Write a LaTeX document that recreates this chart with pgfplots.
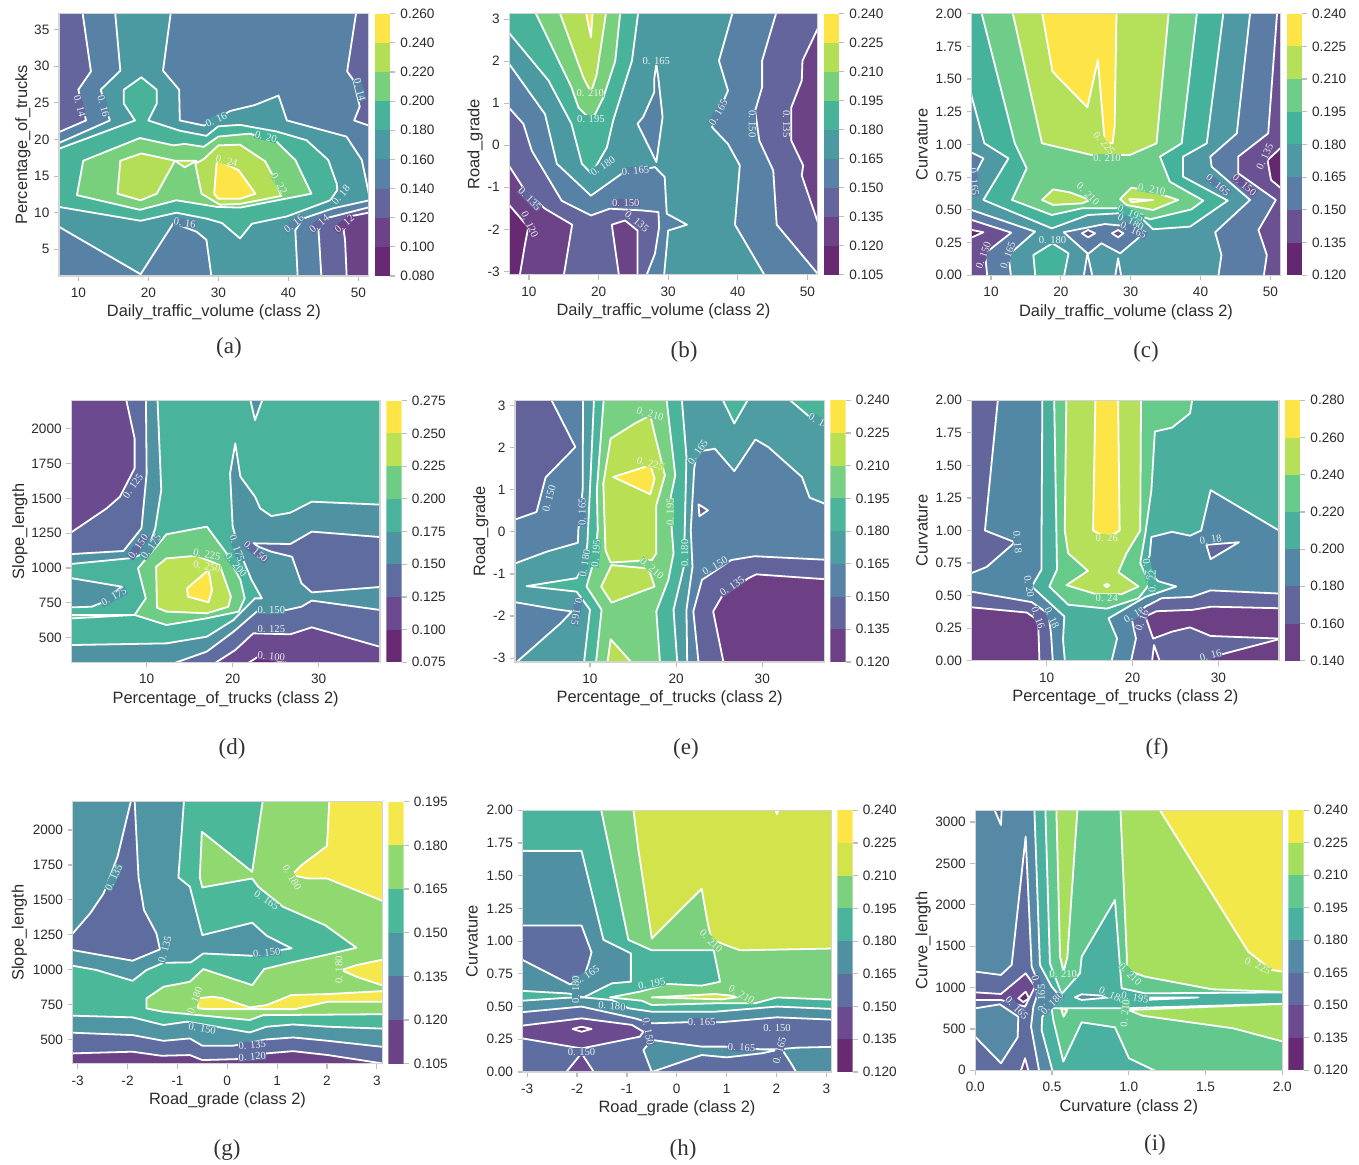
\documentclass[border=0pt]{standalone}
\usepackage{fontspec}
\setmainfont{Liberation Sans}
\newfontfamily\capfont{Liberation Serif}
\usepackage{pgfplots}
\pgfplotsset{compat=1.18}
\definecolor{spine}{HTML}{D4D4D4}
\definecolor{tickc}{HTML}{BDBDBD}
\definecolor{txt}{HTML}{2B2B2B}
\definecolor{clc}{HTML}{E9F2F0}
\definecolor{a0}{HTML}{672A72}\definecolor{a1}{HTML}{6D4388}\definecolor{a2}{HTML}{64659C}\definecolor{a3}{HTML}{5882A5}\definecolor{a4}{HTML}{4C9AA1}\definecolor{a5}{HTML}{49B39A}\definecolor{a6}{HTML}{78D07D}\definecolor{a7}{HTML}{B3DE55}\definecolor{a8}{HTML}{FDE548}
\definecolor{c0}{HTML}{642870}\definecolor{c1}{HTML}{6B5092}\definecolor{c2}{HTML}{5A7CA5}\definecolor{c3}{HTML}{4E99A4}\definecolor{c4}{HTML}{45B29C}\definecolor{c5}{HTML}{6FCD8A}\definecolor{c6}{HTML}{B5E05A}\definecolor{c7}{HTML}{FDE548}
\definecolor{d0}{HTML}{682A73}\definecolor{d1}{HTML}{6C4A8F}\definecolor{d2}{HTML}{5E6CA0}\definecolor{d3}{HTML}{4F93A3}\definecolor{d4}{HTML}{4AB39B}\definecolor{d5}{HTML}{6FCC85}\definecolor{d6}{HTML}{BDE154}\definecolor{d7}{HTML}{FDE548}
\definecolor{e0}{HTML}{6D3F84}\definecolor{e1}{HTML}{63639C}\definecolor{e2}{HTML}{5882A6}\definecolor{e3}{HTML}{4E9DA3}\definecolor{e4}{HTML}{4AB59B}\definecolor{e5}{HTML}{78D082}\definecolor{e6}{HTML}{B9E055}\definecolor{e7}{HTML}{FDE548}
\definecolor{f0}{HTML}{6D3F84}\definecolor{f1}{HTML}{62669D}\definecolor{f2}{HTML}{5288A5}\definecolor{f3}{HTML}{4BAF9E}\definecolor{f4}{HTML}{66CA8B}\definecolor{f5}{HTML}{B6E05A}\definecolor{f6}{HTML}{FDE548}
\definecolor{g0}{HTML}{6C4287}\definecolor{g1}{HTML}{5E6CA0}\definecolor{g2}{HTML}{4F95A3}\definecolor{g3}{HTML}{4CB89A}\definecolor{g4}{HTML}{90D870}\definecolor{g5}{HTML}{F5E84C}
\definecolor{h0}{HTML}{682A73}\definecolor{h1}{HTML}{6C4A8F}\definecolor{h2}{HTML}{5E6EA0}\definecolor{h3}{HTML}{4F90A3}\definecolor{h4}{HTML}{4AB39B}\definecolor{h5}{HTML}{7BD17E}\definecolor{h6}{HTML}{D2E34B}\definecolor{h7}{HTML}{FDE548}
\definecolor{i0}{HTML}{682A73}\definecolor{i1}{HTML}{6C4A8F}\definecolor{i2}{HTML}{5E6CA0}\definecolor{i3}{HTML}{5689A5}\definecolor{i4}{HTML}{4AB09F}\definecolor{i5}{HTML}{62C88E}\definecolor{i6}{HTML}{A6DE5E}\definecolor{i7}{HTML}{F3E84A}
\newcommand\clf{\capfont\fontsize{5.3}{5.5}\selectfont}
\newcommand\reg[2]{\addplot[fill=#1,draw=white,line width=.9pt,line join=round] coordinates {#2} --cycle;}
\newcommand\cl[5]{\node[rotate=#3,fill=#5,font=\clf,text=clc,inner sep=.2pt] at (axis cs:#1,#2) {#4};}
\newcommand\band[3]{\addplot[draw=none,fill=#3] coordinates {(0,#1)(1,#1)(1,#2)(0,#2)} --cycle;}
\newcommand\pcap[3]{\node[font=\capfont\fontsize{11.5}{12}\selectfont,text=black!80] at (#1*0.5pt,{(1162.5-#2)*0.5pt}) {(#3)};}
\pgfplotsset{
 base/.style={scale only axis,anchor=south west,tick align=outside,major tick length=2.5pt,
  tick style={draw=tickc,line width=.6pt},
  ticklabel style={font=\fontsize{6.8}{8}\selectfont,text=txt},
  /pgf/number format/assume math mode=true,/pgf/number format/1000 sep={}},
 panel/.style={base,axis on top,xtick pos=bottom,ytick pos=left,axis line style={draw=spine,line width=.6pt},
  label style={font=\fontsize{8.2}{10}\selectfont,text=txt},yticklabel style={xshift=1.2pt},
  xlabel style={yshift=3.3pt},ylabel style={yshift=-1pt}},
 cbar/.style={base,width=7.7pt,xmin=0,xmax=1,xtick=\empty,ytick pos=right,yticklabel pos=right,
  axis line style={draw=none},
  yticklabel style={/pgf/number format/fixed,/pgf/number format/fixed zerofill,/pgf/number format/precision=3,xshift=-1pt}},
 ztwo/.style={yticklabel style={/pgf/number format/fixed,/pgf/number format/fixed zerofill,/pgf/number format/precision=2}},
}
\begin{document}
\begin{tikzpicture}
\path[use as bounding box] (0,0) rectangle (679.5pt,582pt);
% ---------- (a)
\begin{axis}[panel,ylabel shift=-4pt,at={(29.5pt,444pt)},width=154.85pt,height=131.15pt,xmin=7.24,xmax=51.48,ymin=1.36,ymax=37.18,xtick={10,20,30,40,50},ytick={5,10,15,20,25,30,35},xlabel={Daily\_traffic\_volume (class 2)},ylabel={Percentage\_of\_trucks}]
\addplot[fill=a3,draw=none] coordinates {(5,0)(54,0)(54,39)(5,39)} --cycle;
\reg{a4}{(15.2,38)(23.3,38)(22.1,29.4)(24.4,26.8)(24.5,22.6)(28,21.9)(31.7,23.9)(35.2,24.7)(38.6,26)(39.8,22.6)(48.3,20.4)(50.5,17.2)(51.5,12.6)(53,12)(46.4,10.6)(42.1,9.2)(41,7.6)(41.4,0)(29.2,0)(28.3,6.3)(26.9,7.4)(23.6,8.6)(18.9,1.6)(7.2,8.1)(6,8.7)(6,19)(14.5,22.6)(13.2,26.8)(16,29.4)}
\reg{a2}{(10.5,38)(11.8,29.3)(10,26.8)(11.1,22.6)(7.2,21)(6,20.5)(6,38)}
\reg{a2}{(49.8,38)(48.4,29.3)(49.3,28.1)(50.2,24.5)(49.4,22.6)(51.5,21.9)(53,21.5)(53,38)}
\reg{a2}{(53,11.1)(45.2,9.2)(44.3,7.6)(44.4,6.3)(44.8,0)(53,0)}
\reg{a1}{(53,10.3)(48.8,9.5)(47.9,7.6)(48.1,6.3)(48.4,0)(53,0)}
\reg{a5}{(6,18.3)(18.1,22.6)(16.5,24.9)(16.5,26.8)(19,28.5)(21.2,26.8)(21.2,24.9)(20,22.6)(24.5,21.2)(28.3,20.5)(30,21.8)(33.1,22)(38.3,21.1)(42.6,19.9)(45.7,17.2)(46.9,14)(47,13.1)(46,11.7)(39.8,9.5)(34.8,8.5)(33.1,6.5)(30.5,8.6)(28.3,9.2)(24,10)(18.9,8.9)(7.2,10.8)(6,11)}
\reg{a6}{(10.7,17.1)(18.8,20.2)(23.6,19.2)(25.2,19.4)(27.9,19)(30,20.4)(34.5,20.8)(38.3,19.7)(41,17.2)(43.3,12.6)(33.1,10.7)(29.8,10.8)(24,11.7)(18.8,10.4)(9.8,12.4)}
\reg{a7}{(16,17.1)(19,18.1)(23.8,17.1)(21.2,12.6)(18.9,11.7)(15.6,12.6)}
\reg{a7}{(23.8,17.1)(26.9,17.1)(25.2,16.2)}
\reg{a7}{(26.7,16.7)(27.9,17.3)(30,19.2)(33.1,19.3)(36.7,17)(37.6,15.4)(39,12.3)(33.1,11.2)(30.2,11.1)(27.6,12.6)}
\reg{a8}{(29.8,17.2)(32.9,15.8)(35.3,12.6)(33.1,11.9)(30,11.9)(29.4,12.6)}
\cl{10.2}{24.6}{-75}{0. 14}{a2}
\cl{13.6}{24.6}{-75}{0. 16}{a3}
\cl{29.7}{22.7}{25}{0. 16}{a4}
\cl{36.8}{20.4}{-15}{0. 20}{a5}
\cl{31.2}{17.1}{-15}{0. 24}{a7}
\cl{38.7}{14}{-60}{0. 22}{a6}
\cl{47.5}{12.4}{50}{0. 18}{a4}
\cl{40.8}{8.5}{40}{0. 16}{a3}
\cl{44.4}{8.5}{40}{0. 14}{a2}
\cl{48}{8.5}{40}{0. 12}{a1}
\cl{25.2}{8.6}{-8}{0. 16}{a3}
\cl{50.2}{26.8}{-75}{0. 14}{a3}
\end{axis}
\begin{axis}[cbar,at={(187.5pt,444pt)},height=131.15pt,ymin=0.08,ymax=0.26,ytick={0.08,0.1,0.12,0.14,0.16,0.18,0.2,0.22,0.24,0.26}]
\band{0.08}{0.1}{a0}\band{0.1}{0.12}{a1}\band{0.12}{0.14}{a2}\band{0.14}{0.16}{a3}\band{0.16}{0.18}{a4}\band{0.18}{0.2}{a5}\band{0.2}{0.22}{a6}\band{0.22}{0.24}{a7}\band{0.24}{0.26}{a8}
\end{axis}
% ---------- (b)
\begin{axis}[panel,ylabel shift=-3.5pt,at={(254.65pt,444.65pt)},width=154.2pt,height=130.5pt,xmin=7.17,xmax=51.49,ymin=-3.08,ymax=3.13,xtick={10,20,30,40,50},ytick={-3,-2,-1,0,1,2,3},xlabel={Daily\_traffic\_volume (class 2)},ylabel={Road\_grade}]
\addplot[fill=a4,draw=none] coordinates {(5,-4)(54,-4)(54,4)(5,4)} --cycle;
\reg{a5}{(25.8,3.3)(24.8,2.01)(22.1,.59)(21.2,-.05)(19,-.68)(17.6,-.44)(16.1,.51)(12.8,1.54)(6,2.9)(6,3.3)}
\reg{a6}{(23.2,3.3)(22.4,2.01)(20.7,1.14)(19.5,.74)(18.9,.6)(17.1,.9)(16.1,1.38)(10.5,3.3)}
\reg{a7}{(21.2,3.3)(20.4,2.41)(19.7,1.66)(18.9,1.26)(17.8,1.62)(14.1,3.3)}
\reg{a8}{(18,3.3)(18.9,2.57)(19.2,3.3)}
\reg{a3}{(39.5,3.3)(37.3,2.01)(38.6,1.3)(36.3,.43)(38.6,.03)(40.3,-.48)(39.6,-1.89)(44.6,-3.3)(53,-3.3)(53,3.3)}
\reg{a2}{(45.8,3.3)(43.5,2.01)(43.5,1.38)(42.5,.82)(43.1,.11)(45.1,-.6)(45.6,-1.89)(51.5,-3.06)(53,-3.3)(53,3.3)}
\reg{a1}{(53,3.3)(49.3,2.01)(49.2,1.54)(47.7,.9)(47.7,.11)(49.4,-.48)(49.2,-.72)(51.5,-1.83)(53,-2.55)}
\reg{a3}{(6,2.2)(7.17,1.93)(12.3,.74)(14,-.44)(18.9,-1.2)(23.3,-.68)(28.1,-.52)(29.5,-.76)(29.8,-1.63)(32.7,-1.89)(30,-2.03)(29.3,-3.3)(6,-3.3)}
\reg{a2}{(6,1.1)(9.19,.51)(10.4,-.13)(14.7,-1.32)(18.9,-1.67)(21.6,-1.51)(26.2,-1.55)(28.6,-1.59)(28.7,-1.95)(28.1,-2.58)(26.4,-3.3)(6,-3.3)}
\reg{a1}{(6,-.2)(9.43,-1.08)(12.3,-1.51)(16.2,-1.89)(14.8,-3.3)(6,-3.3)}
\reg{a0}{(6,-1.2)(9.9,-1.95)(9.43,-2.35)(8.47,-3.3)(6,-3.3)}
\reg{a1}{(21.9,-1.89)(23.8,-1.79)(25.6,-2.03)(25.6,-3.3)(23.1,-3.3)}
\reg{a3}{(28.3,1.93)(28,1.58)(28,1.26)(26.4,.67)(25.6,.51)(28.3,-.4)(29.2,.67)(28.6,1.58)}
\cl{28.3}{2.01}{0}{0. 165}{a4}
\cl{18.8}{1.24}{0}{0. 210}{a6}
\cl{18.9}{.63}{0}{0. 195}{a5}
\cl{20.6}{-.5}{35}{0. 180}{a4}
\cl{25.3}{-.6}{5}{0. 165}{a3}
\cl{23.9}{-1.37}{0}{0. 150}{a2}
\cl{25.5}{-1.81}{-40}{0. 135}{a2}
\cl{10.1}{-1.28}{-45}{0. 135}{a2}
\cl{10.1}{-1.89}{-65}{0. 120}{a1}
\cl{37.2}{.78}{60}{0. 165}{a3}
\cl{42.1}{.51}{-90}{0. 150}{a3}
\cl{47}{.51}{-90}{0. 135}{a2}
\end{axis}
\begin{axis}[cbar,at={(412pt,444.65pt)},height=130.5pt,ymin=0.105,ymax=0.24,ytick={0.105,0.12,0.135,0.15,0.165,0.18,0.195,0.21,0.225,0.24}]
\band{0.105}{0.12}{a0}\band{0.12}{0.135}{a1}\band{0.135}{0.15}{a2}\band{0.15}{0.165}{a3}\band{0.165}{0.18}{a4}\band{0.18}{0.195}{a5}\band{0.195}{0.21}{a6}\band{0.21}{0.225}{a7}\band{0.225}{0.24}{a8}
\end{axis}
% ---------- (c)
\begin{axis}[panel,ztwo,ylabel shift=-2pt,at={(485.85pt,444.35pt)},width=154.3pt,height=130.8pt,xmin=7.23,xmax=51.43,ymin=0,ymax=2,xtick={10,20,30,40,50},ytick={0,.25,.5,.75,1,1.25,1.5,1.75,2},xlabel={Daily\_traffic\_volume (class 2)},ylabel={Curvature}]
\addplot[fill=c3,draw=none] coordinates {(5,-1)(54,-1)(54,3)(5,3)} --cycle;
\reg{c4}{(43.5,2.1)(40.9,1.009)(37.5,.907)(37.5,.754)(43.9,.571)(38.5,.372)(33.2,.352)(31.8,.423)(28.2,.474)(23.9,.461)(18.7,.359)(8.9,.576)(12.5,.894)(9.05,1.009)(7.23,1.366)(6,1.7)(6,2.1)}
\reg{c5}{(39.7,2.1)(37.3,1.009)(34.2,.907)(35.6,.716)(40.4,.571)(38.7,.504)(32.8,.428)(28.2,.512)(23,.512)(18.7,.461)(13,.576)(15.1,.818)(13.4,1.009)(8.19,2.1)}
\reg{c6}{(12.7,2.1)(17.3,1.009)(24.4,.92)(29.9,.92)(33.7,1.009)(35.6,2.1)}
\reg{c7}{(17,2.1)(18.8,1.557)(23.8,1.284)(25.3,1.646)(26.1,1.136)(26.3,1.009)(27.4,1.009)(27.7,1.136)(28,2.1)}
\reg{c6}{(17.3,.576)(18.9,.657)(21.3,.634)(24.2,.576)(23,.55)(18.9,.538)}
\reg{c6}{(28.5,.583)(30.1,.67)(33.2,.639)(36.8,.576)(33.2,.499)(29.4,.538)}
\reg{c7}{(29.8,.583)(33.2,.576)(30.1,.558)}
\reg{c2}{(47.3,2.1)(45.2,1.085)(41.4,.907)(41.6,.83)(47.1,.576)(42.1,.329)(43,.155)(42.3,-.1)(53,-.1)(53,2.1)}
\reg{c1}{(51.1,2.1)(49.7,1.085)(45.4,.907)(45.4,.78)(50.8,.576)(48.3,.346)(49.5,.155)(48.8,-.1)(53,-.1)(53,2.1)}
\reg{c0}{(53,1.05)(49.6,.88)(50.1,.729)(53,.6)}
\reg{c2}{(6,.97)(8.9,.894)(7.3,.73)(6,.65)}
\reg{c2}{(6,.5)(7.23,.499)(16.3,.334)(12.5,.155)(13.05,-.1)(6,-.1)}
\reg{c1}{(6,.45)(7.23,.423)(12.9,.326)(9.14,.168)(9.62,-.1)(6,-.1)}
\reg{c0}{(6,.36)(8.9,.329)(6,.26)}
\reg{c4}{(16.5,-.1)(16.06,.155)(18.8,.245)(21.1,.168)(20.1,-.1)}
\reg{c2}{(20.4,.329)(26.3,.392)(30.1,.372)(31.6,.308)(28.5,.168)(25.8,.245)(23.9,.163)}
\reg{c1}{(23,.321)(23.9,.346)(24.9,.321)(23.9,.29)}
\reg{c1}{(27.3,.321)(28.2,.346)(28.95,.321)(28.2,.29)}
\reg{c2}{(23,-.1)(23.8,.168)(24.9,-.1)}
\reg{c2}{(27.5,-.1)(28.2,.13)(28.95,-.1)}
\cl{26.2}{1.009}{-50}{0. 225}{c6}
\cl{26.6}{.9}{0}{0. 210}{c5}
\cl{23.9}{.62}{-45}{0. 210}{c5}
\cl{33}{.657}{-10}{0. 210}{c5}
\cl{30}{.474}{-25}{0. 195}{c4}
\cl{30}{.41}{-25}{0. 180}{c3}
\cl{30.4}{.346}{-25}{0. 165}{c2}
\cl{18.8}{.27}{0}{0. 180}{c3}
\cl{42.5}{.69}{-40}{0. 165}{c2}
\cl{46.3}{.69}{-40}{0. 150}{c1}
\cl{49.2}{.907}{65}{0. 135}{c1}
\cl{8.9}{.155}{70}{0. 150}{c1}
\cl{12.4}{.155}{70}{0. 165}{c2}
\cl{7.6}{.716}{-85}{0. 165}{c2}
\end{axis}
\begin{axis}[cbar,at={(643.35pt,444.35pt)},height=130.8pt,ymin=0.12,ymax=0.24,ytick={0.12,0.135,0.15,0.165,0.18,0.195,0.21,0.225,0.24}]
\band{0.12}{0.135}{c0}\band{0.135}{0.15}{c1}\band{0.15}{0.165}{c2}\band{0.165}{0.18}{c3}\band{0.18}{0.195}{c4}\band{0.195}{0.21}{c5}\band{0.21}{0.225}{c6}\band{0.225}{0.24}{c7}
\end{axis}
% ---------- (d)
\begin{axis}[panel,ylabel shift=-4pt,at={(35.65pt,250.85pt)},width=154.35pt,height=130.8pt,xmin=1.24,xmax=37.13,ymin=323,ymax=2201,xtick={10,20,30},ytick={500,750,1000,1250,1500,1750,2000},xlabel={Percentage\_of\_trucks (class 2)},ylabel={Slope\_length}]
\addplot[fill=d4,draw=none] coordinates {(0,200)(40,200)(40,2400)(0,2400)} --cycle;
\reg{d3}{(11.2,2300)(11.7,1560)(11,1285)(10,1105)(7.9,1069)(1.24,1029)(0,1025)(0,2300)}
\reg{d2}{(9.9,2300)(10,1679)(9.4,1285)(7.3,1122)(1.24,1100)(0,1099)(0,2300)}
\reg{d1}{(7.3,2300)(8.6,1930)(8.6,1715)(6.9,1512)(5.35,1428)(1.24,1256)(0,1200)(0,2300)}
\reg{d3}{(0,940)(7.1,866)(6.1,818)(4.6,746)(3.6,722)(0,715)}
\reg{d3}{(21.7,2300)(22.6,2062)(24,2300)}
\reg{d3}{(39,1450)(29.2,1476)(26.7,1397)(24.5,1373)(23.2,1428)(22.6,1512)(20.9,1655)(20.3,1895)(19.7,1679)(20,1297)(20.9,1105)(22.2,914)(23.4,782)(22.6,782)(20.1,627)(17,507)(12.3,459)(1.24,447)(0,445)(0,280)(39,280)}
\reg{d2}{(22.4,1177)(26.7,1172)(29.2,1261)(39,1213)(39,873)(29.2,825)(28,890)(26.9,1081)(24.5,1117)(23,1153)}
\reg{d2}{(11.5,280)(17,400)(20.1,543)(22.8,687)(26.3,699)(28,722)(29.2,766)(37.1,699)(39,684)(39,280)}
\reg{d1}{(17,280)(20.3,411)(22.4,531)(26.7,524)(29.2,574)(37.1,435)(39,400)(39,280)}
\reg{d0}{(20.8,280)(23,364)(26.1,323)(27.5,280)}
\reg{d5}{(9,998)(12.3,1242)(17,1297)(19.3,1105)(20.9,914)(21.4,782)(20.7,687)(17,639)(12.3,591)(8.6,663)(9.9,782)}
\reg{d5}{(0,663)(8.6,663)(0,634)}
\reg{d6}{(11.1,1009)(12.3,1069)(15.8,1088)(18.5,1021)(19.8,794)(19.5,722)(17,675)(12.3,687)(11.2,715)}
\reg{d7}{(14.7,854)(17.2,986)(17.6,842)(17.2,754)(14.8,794)}
\cl{8.4}{1588}{55}{0. 125}{d2}
\cl{9}{1153}{55}{0. 150}{d2}
\cl{10.5}{1153}{55}{0. 175}{d3}
\cl{17}{1098}{-10}{0. 225}{d5}
\cl{17}{1009}{-10}{0. 250}{d6}
\cl{6.2}{794}{30}{0. 175}{d3}
\cl{20.5}{1141}{-70}{0. 175}{d3}
\cl{20.4}{1021}{-50}{0. 200}{d4}
\cl{22.7}{1117}{-40}{0. 150}{d2}
\cl{24.5}{699}{0}{0. 150}{d3}
\cl{24.5}{562}{0}{0. 125}{d2}
\cl{24.5}{364}{-5}{0. 100}{d1}
\end{axis}
\begin{axis}[cbar,at={(193.15pt,250.85pt)},height=130.8pt,ymin=0.075,ymax=0.275,ytick={0.075,0.1,0.125,0.15,0.175,0.2,0.225,0.25,0.275}]
\band{0.075}{0.1}{d0}\band{0.1}{0.125}{d1}\band{0.125}{0.15}{d2}\band{0.15}{0.175}{d3}\band{0.175}{0.2}{d4}\band{0.2}{0.225}{d5}\band{0.225}{0.25}{d6}\band{0.25}{0.275}{d7}
\end{axis}
% ---------- (e)
\begin{axis}[panel,ylabel shift=-3.5pt,at={(257.5pt,251pt)},width=154.65pt,height=130.85pt,xmin=1.3,xmax=37.2,ymin=-3.09,ymax=3.12,xtick={10,20,30},ytick={-3,-2,-1,0,1,2,3},xlabel={Percentage\_of\_trucks (class 2)},ylabel={Road\_grade}]
\addplot[fill=e3,draw=none] coordinates {(0,-4)(40,-4)(40,4)(0,4)} --cycle;
\reg{e2}{(9.2,3.3)(9.15,.99)(8.65,.04)(8.6,-.26)(5,-.47)(0,-.85)(0,3.3)}
\reg{e1}{(5.1,3.3)(8.3,2.01)(4.85,1.29)(3.8,.47)(1.3,.29)(0,.2)(0,3.3)}
\reg{e2}{(0,-1.6)(1.3,-1.67)(6.1,-1.84)(7.9,-1.89)(6.6,-2.17)(1.5,-3.09)(.5,-3.3)(0,-3.3)}
\reg{e4}{(10.5,3.3)(10,.99)(9.7,-.28)(9.4,-.75)(8.45,-1.1)(2.65,-1.29)(8.45,-1.42)(10,-1.85)(9.2,-3.3)(20.2,-3.3)(19.7,-1.85)(20.9,-.83)(21,.04)(21.2,1.78)(20.6,3.3)}
\reg{e5}{(11.65,3.3)(10.8,.99)(10.9,.04)(10.6,-.59)(9.6,-1.3)(11.35,-1.85)(10.6,-3.3)(18.2,-3.3)(17.7,-1.89)(19.1,-1.14)(19.7,-.51)(19.5,.04)(19.3,.75)(19.9,1.34)(18.8,3.3)}
\reg{e6}{(12.4,2.21)(15.2,2.57)(17,2.76)(17.5,2.33)(18.7,1.34)(17.7,.63)(17.7,-.51)(17.2,-.67)(12.4,-.73)(11.8,-.44)(11.55,1.14)}
\reg{e7}{(12.7,1.3)(17,1.58)(17.5,1.26)(17,.89)}
\reg{e6}{(12.5,-.79)(16.8,-.87)(17.5,-1.3)(12.5,-1.68)(11.3,-1.3)}
\reg{e6}{(11.9,-3.3)(12.4,-2.55)(15.7,-3.3)}
\reg{e4}{(25,3.3)(26.75,2.57)(28.8,3.3)}
\reg{e4}{(32.2,3.3)(35.3,2.76)(39,2.3)(39,3.3)}
\reg{e2}{(22.1,1.5)(22.4,1.9)(24.5,1.97)(26.75,1.44)(29.2,2.19)(30.7,2.01)(34.6,1.3)(35.5,.81)(37.2,.67)(39,.55)(39,-3.3)(21.3,-3.3)(21.2,-1.85)(21.9,-.83)(21.7,.04)}
\reg{e1}{(22.7,-3.3)(22,-1.89)(23,-1.14)(26.4,-.67)(29.1,-.58)(39,-.68)(39,-3.3)}
\reg{e0}{(25.7,-3.3)(24.3,-1.89)(25.3,-1.54)(28.4,-1.1)(29.3,-1.01)(39,-1.15)(39,-3.3)}
\reg{e1}{(22.6,.65)(23.7,.51)(22.7,.37)}
\cl{17}{2.79}{-15}{0. 210}{e5}
\cl{17}{1.62}{-15}{0. 225}{e6}
\cl{5.25}{.79}{75}{0. 150}{e2}
\cl{9.1}{.47}{90}{0. 165}{e2}
\cl{19.3}{.47}{90}{0. 195}{e5}
\cl{22.5}{1.89}{55}{0. 165}{e3}
\cl{21}{-.51}{90}{0. 180}{e4}
\cl{9.4}{-.75}{80}{0. 180}{e3}
\cl{10.7}{-.51}{85}{0. 195}{e4}
\cl{17.2}{-.87}{-40}{0. 210}{e5}
\cl{24.5}{-.81}{30}{0. 150}{e2}
\cl{26.5}{-1.29}{35}{0. 135}{e1}
\cl{8.45}{-1.89}{-100}{0. 165}{e2}
\cl{36.3}{2.66}{-30}{0. 1}{e3}
\end{axis}
\begin{axis}[cbar,at={(415.15pt,251pt)},height=130.85pt,ymin=0.12,ymax=0.24,ytick={0.12,0.135,0.15,0.165,0.18,0.195,0.21,0.225,0.24}]
\band{0.12}{0.135}{e0}\band{0.135}{0.15}{e1}\band{0.15}{0.165}{e2}\band{0.165}{0.18}{e3}\band{0.18}{0.195}{e4}\band{0.195}{0.21}{e5}\band{0.21}{0.225}{e6}\band{0.225}{0.24}{e7}
\end{axis}
% ---------- (f)
\begin{axis}[panel,ztwo,ylabel shift=-2pt,at={(485.85pt,251.65pt)},width=153.65pt,height=130.2pt,xmin=1.26,xmax=37.07,ymin=0,ymax=2,xtick={10,20,30},ytick={0,.25,.5,.75,1,1.25,1.5,1.75,2},xlabel={Percentage\_of\_trucks (class 2)},ylabel={Curvature}]
\addplot[fill=f2,draw=none] coordinates {(0,-1)(40,-1)(40,3)(0,3)} --cycle;
\reg{f1}{(4.45,2.1)(2.8,1)(6.3,.91)(3,.72)(0,.64)(0,2.1)}
\reg{f1}{(28.6,.89)(32.4,.91)(29.1,.78)}
\reg{f1}{(0,.55)(1.26,.53)(8.25,.45)(10.2,.36)(10.5,.21)(10.8,-.1)(0,-.1)}
\reg{f0}{(0,.42)(1.26,.41)(7.67,.37)(9,.31)(9.2,-.1)(0,-.1)}
\reg{f3}{(9.5,2.1)(9.4,1)(9.4,.7)(8.25,.57)(12.05,.34)(11.9,.16)(12.25,-.1)(17.2,-.1)(18.2,.17)(17.2,.325)(21.5,.49)(25.1,.57)(23,.61)(21.5,.7)(22,.81)(22.2,.95)(24.6,.99)(26.7,.96)(28,1)(29.1,1.31)(39,.925)(39,2.1)}
\reg{f4}{(10.85,2.1)(27.2,2.1)(26.7,1.9)(24.6,1.79)(22.6,1.76)(22.2,1.31)(21.5,.98)(20.9,.75)(22,.59)(20.7,.48)(17,.4)(12.5,.43)(10.3,.57)(11.2,.7)}
\reg{f5}{(12.3,2.1)(12.1,1)(12.5,.825)(14.8,.69)(12.3,.58)(15.8,.51)(18.7,.51)(20.7,.57)(18.35,.68)(19.3,.825)(20.9,1)(21,2.1)}
\reg{f6}{(15.7,2.1)(15.4,1)(17,.94)(18.5,1)(18.3,2.1)}
\reg{f6}{(16.7,.58)(17,.59)(17.3,.58)(17,.565)}
\reg{f1}{(39,.51)(29.1,.54)(26.9,.49)(23.4,.48)(21.5,.415)(19.9,.325)(20.4,.17)(19.5,-.1)(39,-.1)}
\reg{f0}{(39,.4)(29.2,.415)(26.9,.39)(22.8,.38)(21.5,.34)(22.4,.17)(24.6,.223)(26.7,.256)(29.1,.19)(37.07,.17)}
\reg{f0}{(22.1,-.1)(22.5,.12)(23.7,-.1)}
\reg{f0}{(27.9,0)(30.8,.056)(37.07,.165)(39,.2)(39,-.1)(27.9,-.1)}
\cl{6.6}{.91}{-85}{0. 18}{f2}
\cl{7.95}{.57}{-80}{0. 20}{f2}
\cl{9}{.33}{-70}{0. 16}{f1}
\cl{10.6}{.33}{-65}{0. 18}{f2}
\cl{17}{.94}{0}{0. 26}{f5}
\cl{17}{.48}{0}{0. 24}{f4}
\cl{21.8}{.7}{-80}{0. 20}{f3}
\cl{22.3}{.61}{90}{0. 22}{f3}
\cl{20.2}{.35}{30}{0. 18}{f2}
\cl{21.1}{.31}{70}{0. 16}{f1}
\cl{29.1}{.93}{10}{0. 18}{f2}
\cl{29.1}{.04}{15}{0. 16}{f1}
\end{axis}
\begin{axis}[cbar,at={(642.5pt,251.65pt)},height=130.2pt,ymin=0.14,ymax=0.28,ytick={0.14,0.16,0.18,0.2,0.22,0.24,0.26,0.28}]
\band{0.14}{0.16}{f0}\band{0.16}{0.18}{f1}\band{0.18}{0.2}{f2}\band{0.2}{0.22}{f3}\band{0.22}{0.24}{f4}\band{0.24}{0.26}{f5}\band{0.26}{0.28}{f6}
\end{axis}
% ---------- (g)
\begin{axis}[panel,ylabel shift=-3pt,at={(36.35pt,50.15pt)},width=154.8pt,height=131pt,xmin=-3.1,xmax=3.11,ymin=326,ymax=2203,xtick={-3,-2,-1,0,1,2,3},ytick={500,750,1000,1250,1500,1750,2000},xlabel={Road\_grade (class 2)},ylabel={Slope\_length}]
\addplot[fill=g3,draw=none] coordinates {(-4,200)(4,200)(4,2400)(-4,2400)} --cycle;
\reg{g2}{(-.85,2300)(-.98,1661)(-.75,1594)(-.5,1247)(.5,1336)(.79,1243)(1.29,1152)(1.06,1140)(.52,1099)(-.48,1116)(-.73,1052)(-1.28,1049)(-1.62,997)(-1.9,920)(-2.62,997)(-3.1,1028)(-3.3,1040)(-3.3,2300)}
\reg{g1}{(-1.87,2300)(-2.2,1809)(-2.48,1546)(-2.75,1403)(-3.1,1259)(-3.3,1180)(-3.3,1130)(-3.1,1140)(-1.9,1064)(-1.35,1145)(-1.42,1259)(-1.67,1427)(-1.78,1661)}
\reg{g4}{(.75,2300)(.5,1701)(-.51,1988)(-.55,1661)(-.5,1589)(.5,1653)(.62,1594)(1.12,1450)(1.96,1319)(2.59,1157)(1.96,1104)(1.29,1052)(.74,1004)(.5,889)(-.48,1004)(-.75,913)(-1.28,877)(-1.62,794)(-1.62,722)(-1.28,698)(.45,639)(.72,674)(3.3,681)(3.3,2300)}
\reg{g5}{(2.06,2300)(2,1885)(1.49,1749)(1.29,1677)(1.62,1653)(2,1653)(3.11,1493)(3.3,1465)(3.3,2300)}
\reg{g5}{(3.3,1085)(2.59,1032)(2.29,997)(2.59,949)(3.3,865)}
\reg{g5}{(-.61,794)(-.28,806)(-.08,794)(.45,729)(.79,746)(1.29,818)(2.02,825)(3.3,850)(3.3,770)(2.02,770)(1.36,717)(-.41,717)(-.58,722)}
\reg{g2}{(-3.3,672)(-3.1,670)(-1.9,658)(-1.28,603)(-.81,627)(.45,550)(.79,591)(1.32,607)(2.02,591)(3.3,575)(3.3,280)(-3.3,280)}
\reg{g1}{(-3.3,549)(-3.1,548)(-1.9,531)(-1.28,490)(-.75,507)(-.5,455)(.12,455)(.79,500)(1.32,514)(2.02,490)(3.11,447)(3.3,440)(3.3,280)(-3.3,280)}
\reg{g0}{(-3.3,398)(-3.1,400)(-1.9,412)(-1.32,383)(-.75,388)(-.5,352)(.19,359)(.79,400)(1.32,416)(2.02,388)(3.11,328)(3.3,318)(3.3,280)(-3.3,280)}
\cl{-2.28}{1660}{65}{0. 135}{g2}
\cl{-1.25}{1145}{75}{0. 135}{g2}
\cl{1.3}{1660}{-60}{0. 180}{g4}
\cl{.79}{1498}{-35}{0. 165}{g3}
\cl{.79}{1123}{5}{0. 150}{g2}
\cl{2.24}{997}{90}{0. 180}{g4}
\cl{-.65}{782}{70}{0. 180}{g4}
\cl{-.5}{579}{-10}{0. 150}{g2}
\cl{.5}{459}{5}{0. 135}{g1}
\cl{.5}{376}{5}{0. 120}{g1}
\end{axis}
\begin{axis}[cbar,at={(194.15pt,50.15pt)},height=131pt,ymin=0.105,ymax=0.195,ytick={0.105,0.12,0.135,0.15,0.165,0.18,0.195}]
\band{0.105}{0.12}{g0}\band{0.12}{0.135}{g1}\band{0.135}{0.15}{g2}\band{0.15}{0.165}{g3}\band{0.165}{0.18}{g4}\band{0.18}{0.195}{g5}
\end{axis}
% ---------- (h)
\begin{axis}[panel,ztwo,ylabel shift=-1.5pt,at={(261.35pt,46pt)},width=154.3pt,height=130.85pt,xmin=-3.09,xmax=3.1,ymin=0,ymax=2,xtick={-3,-2,-1,0,1,2,3},ytick={0,.25,.5,.75,1,1.25,1.5,1.75,2},xlabel={Road\_grade (class 2)},ylabel={Curvature}]
\addplot[fill=h4,draw=none] coordinates {(-4,-1)(4,-1)(4,3)(-4,3)} --cycle;
\reg{h5}{(-1.57,2.1)(-.97,1.01)(-.5,.93)(.74,.93)(.87,.69)(.5,.66)(-.17,.673)(-.74,.614)(-1.34,.57)(-.7,.545)(-.5,.512)(.77,.525)(1.57,.525)(2.01,.57)(3.3,.55)(3.3,2.1)}
\reg{h6}{(-.9,2.1)(-.77,1.7)(-.5,1.02)(.5,1.4)(.62,1.14)(.7,1.01)(1.27,.93)(3.3,.945)(3.3,2.1)}
\reg{h6}{(1.9,2.1)(2.01,1.97)(2.12,2.1)}
\reg{h6}{(-.5,.57)(.77,.596)(1.3,.576)(.9,.555)}
\reg{h3}{(-3.3,1.69)(-1.91,1.69)(-1.47,1.01)(-.92,.907)(-.92,.69)(-1.3,.678)(-1.87,.57)(-2.17,.6)(-3.09,.62)(-3.3,.62)}
\reg{h2}{(-3.3,1.12)(-1.91,1.12)(-1.71,.915)(-1.77,.83)(-1.87,.72)(-2.14,.67)(-3.09,.856)(-3.3,.9)}
\reg{h3}{(-3.3,.54)(-2.17,.568)(-1.87,.57)(-1.3,.55)(-.97,.487)(-.5,.461)(.77,.461)(2.01,.5)(3.3,.479)(3.3,-.1)(-3.3,-.1)}
\reg{h2}{(-3.3,.45)(-1.91,.5)(-.84,.41)(-.5,.372)(.17,.38)(.87,.38)(2.01,.418)(3.3,.397)(3.3,-.1)(-3.3,-.1)}
\reg{h3}{(-.5,.245)(.5,.194)(.97,.194)(1.71,.173)(2.01,.173)(2.41,.186)(3.3,.194)(3.3,-.1)(2.55,-.1)(2.27,.08)(2.14,.155)(2.01,.168)(1.71,.143)(1,.112)(.5,.13)(-.5,0)(-.67,.168)}
\reg{h1}{(-3.3,.345)(-1.91,.41)(-.9,.36)(-.67,.308)(-.74,.27)(-1.91,.18)(-3.3,.27)}
\reg{h0}{(-2.09,.329)(-1.91,.346)(-1.71,.329)(-1.91,.308)}
\reg{h1}{(-2.43,-.1)(-1.91,.143)(-1.49,-.1)}
\cl{-1.8}{.74}{35}{0. 165}{h3}
\cl{-2.03}{.63}{90}{0. 180}{h3}
\cl{-.5}{.673}{10}{0. 195}{h4}
\cl{.69}{1}{-45}{0. 210}{h5}
\cl{1.3}{.59}{-30}{0. 210}{h5}
\cl{-1.3}{.505}{-5}{0. 180}{h3}
\cl{.5}{.38}{0}{0. 165}{h2}
\cl{2.01}{.334}{0}{0. 150}{h2}
\cl{-.57}{.31}{-80}{0. 150}{h2}
\cl{1.3}{.186}{-3}{0. 165}{h2}
\cl{2.06}{.163}{75}{0. 165}{h2}
\cl{-1.91}{.15}{0}{0. 150}{h2}
\end{axis}
\begin{axis}[cbar,at={(418.65pt,46pt)},height=130.85pt,ymin=0.12,ymax=0.24,ytick={0.12,0.135,0.15,0.165,0.18,0.195,0.21,0.225,0.24}]
\band{0.12}{0.135}{h0}\band{0.135}{0.15}{h1}\band{0.15}{0.165}{h2}\band{0.165}{0.18}{h3}\band{0.18}{0.195}{h4}\band{0.195}{0.21}{h5}\band{0.21}{0.225}{h6}\band{0.225}{0.24}{h7}
\end{axis}
% ---------- (i)
\begin{axis}[panel,ylabel shift=-3.5pt,at={(487.65pt,46.85pt)},width=153.5pt,height=130pt,xmin=0,xmax=2,ymin=0,ymax=3141,xtick={0,.5,1,1.5,2},ytick={0,500,1000,1500,2000,2500,3000},xticklabel style={/pgf/number format/fixed,/pgf/number format/fixed zerofill,/pgf/number format/precision=1},xlabel={Curvature (class 2)},ylabel={Curve\_length}]
\addplot[fill=i4,draw=none] coordinates {(-1,-500)(3,-500)(3,4000)(-1,4000)} --cycle;
\reg{i3}{(.382,3300)(.421,1273)(.497,1011)(.562,870)(.497,769)(.436,648)(.432,487)(.502,0)(.52,-100)(-.1,-100)(-.1,3300)}
\reg{i2}{(-.1,1200)(0,1192)(.167,1152)(.237,1273)(.328,2823)(.367,1252)(.421,1011)(.378,769)(.363,528)(.415,0)(.43,-100)(-.1,-100)}
\reg{i3}{(-.1,760)(0,749)(.16,797)(.28,648)(.276,399)(.167,85)(0,403)(-.1,495)}
\reg{i1}{(-.1,950)(0,942)(.167,922)(.328,1172)(.389,1011)(.324,769)(.167,850)(0,850)(-.1,845)}
\reg{i0}{(.28,870)(.328,950)(.35,870)(.313,825)}
\reg{i1}{(.28,-100)(.324,145)(.36,-100)}
\reg{i2}{(.09,3300)(.167,2964)(.176,3300)}
\reg{i5}{(.454,3300)(2.1,3300)(2.1,942)(1.105,930)(.953,991)(.91,2058)(.693,1373)(.682,1172)(.562,922)(.486,1293)}
\reg{i6}{(.942,3300)(.986,1413)(.986,1212)(1.105,1132)(1.54,979)(2.1,940)(2.1,3300)}
\reg{i7}{(1.149,3300)(1.778,1434)(1.93,1212)(2,1192)(2.1,1180)(2.1,3300)}
\reg{i6}{(.526,3300)(.552,1373)(.575,1192)(.6,1373)(.671,3300)}
\reg{i5}{(.497,749)(.671,749)(.953,749)(2.1,809)(2.1,-100)(1.279,-100)(1.001,145)(.91,519)(.693,580)(.573,105)(.508,608)}
\reg{i6}{(.997,729)(2.1,809)(2.1,300)(1.681,507)(1.088,660)}
\reg{i6}{(.558,749)(.6,729)(.575,648)}
\reg{i3}{(.649,882)(.693,918)(.932,890)(.693,850)}
\reg{i3}{(1.105,878)(1.453,880)(1.105,850)}
\cl{.573}{1160}{0}{0. 210}{i5}
\cl{1.01}{1160}{-45}{0. 210}{i5}
\cl{1.84}{1264}{-25}{0. 225}{i6}
\cl{.89}{910}{-25}{0. 180}{i4}
\cl{1.04}{880}{-10}{0. 195}{i4}
\cl{.975}{690}{85}{0. 210}{i5}
\cl{.27}{750}{-45}{0. 165}{i2}
\cl{.41}{990}{-75}{0. 150}{i2}
\cl{.43}{870}{90}{0. 165}{i3}
\cl{.5}{810}{45}{0. 180}{i3}
\end{axis}
\begin{axis}[cbar,at={(644.15pt,46.85pt)},height=130pt,ymin=0.12,ymax=0.24,ytick={0.12,0.135,0.15,0.165,0.18,0.195,0.21,0.225,0.24}]
\band{0.12}{0.135}{i0}\band{0.135}{0.15}{i1}\band{0.15}{0.165}{i2}\band{0.165}{0.18}{i3}\band{0.18}{0.195}{i4}\band{0.195}{0.21}{i5}\band{0.21}{0.225}{i6}\band{0.225}{0.24}{i7}
\end{axis}
% ---------- captions
\pcap{229}{346}{a}\pcap{684}{350}{b}\pcap{1146}{350}{c}
\pcap{232}{747}{d}\pcap{686}{747}{e}\pcap{1157}{747}{f}
\pcap{227}{1148}{g}\pcap{683}{1148}{h}\pcap{1155}{1143}{i}
\end{tikzpicture}
\end{document}
